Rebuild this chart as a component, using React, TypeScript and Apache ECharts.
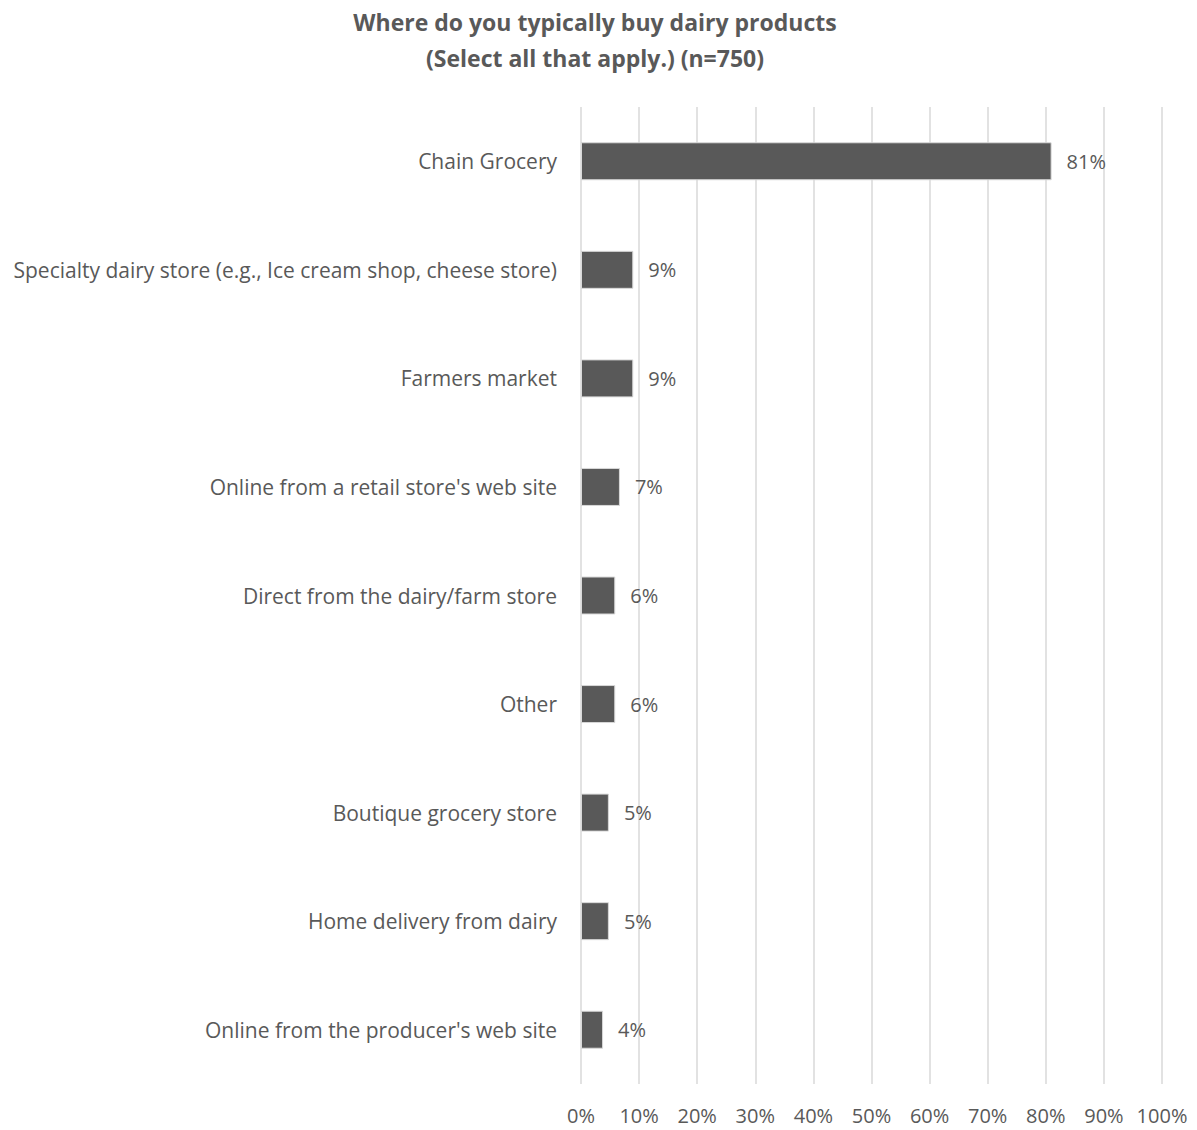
import React, { useEffect, useRef } from "react";
import * as echarts from "echarts";

const titleLines = ["Where do you typically buy dairy products", "(Select all that apply.) (n=750)"];
const categories = [
  "Chain Grocery",
  "Specialty dairy store (e.g., Ice cream shop, cheese store)",
  "Farmers market",
  "Online from a retail store's web site",
  "Direct from the dairy/farm store",
  "Other",
  "Boutique grocery store",
  "Home delivery from dairy",
  "Online from the producer's web site",
];
const values = [81, 9, 9, 6.7, 5.9, 5.9, 4.8, 4.8, 3.8];
const xMin = 0;
const xMax = 100;
const xInterval = 10;

const FONT = "'Open Sans', 'Liberation Sans', sans-serif";
const GREY = "#595959";

export default function App() {
  const ref = useRef<HTMLDivElement>(null);
  useEffect(() => {
    if (!ref.current) return;
    const chart = echarts.init(ref.current, undefined, { renderer: "svg" });
    chart.setOption({
      animation: false,
      backgroundColor: "#ffffff",
      title: {
        text: titleLines.join("\n"),
        left: 590,
        textAlign: "center",
        top: -1,
        textStyle: {
          fontFamily: FONT,
          fontSize: 23,
          fontWeight: "bold",
          color: GREY,
          lineHeight: 36,
        },
      },
      grid: { left: 581, right: 35, top: 107, bottom: 46, containLabel: false },
      xAxis: {
        type: "value",
        min: xMin,
        max: xMax,
        interval: xInterval,
        axisLine: { show: false },
        axisTick: { show: false },
        splitLine: { show: true, lineStyle: { color: "#d9d9d9", width: 1.5 } },
        axisLabel: {
          formatter: (v: number) => `${v}%`,
          fontFamily: FONT,
          fontSize: 20,
          color: GREY,
          margin: 21,
        },
      },
      yAxis: {
        type: "category",
        data: categories,
        inverse: true,
        axisLine: { show: false },
        axisTick: { show: false },
        axisLabel: {
          fontFamily: FONT,
          fontSize: 21,
          color: GREY,
          margin: 24,
        },
      },
      series: [
        {
          type: "bar",
          data: values,
          barWidth: 38,
          itemStyle: { color: "#595959", borderColor: "#d9d9d9", borderWidth: 1 },
          label: {
            show: true,
            position: "right",
            distance: 15,
            formatter: (p: any) => `${Math.round(p.value)}%`,
            fontFamily: FONT,
            fontSize: 20,
            color: GREY,
          },
        },
      ],
    });
    return () => chart.dispose();
  }, []);
  return (
    <div
      ref={ref}
      style={{ position: "absolute", left: 0, top: 0, width: 1197, height: 1130 }}
    />
  );
}
